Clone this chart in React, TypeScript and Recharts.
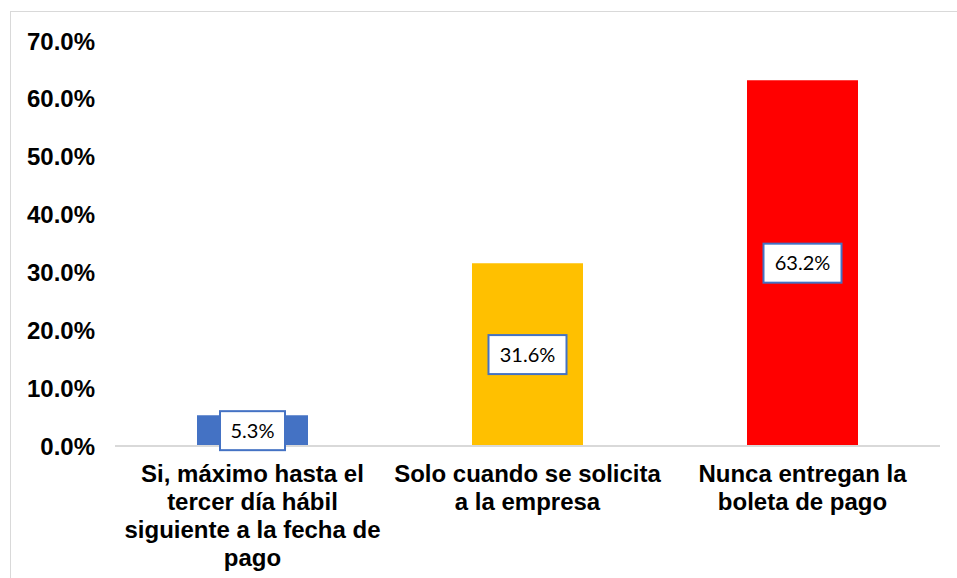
import { BarChart, Bar, XAxis, YAxis, Cell, LabelList } from 'recharts';

// Survey answers and their share of respondents (%)
const categories = [
  'Si, máximo hasta el tercer día hábil siguiente a la fecha de pago',
  'Solo cuando se solicita a la empresa',
  'Nunca entregan la boleta de pago',
];
const categoryLines = [
  ['Si, máximo hasta el', 'tercer día hábil', 'siguiente a la fecha de', 'pago'],
  ['Solo cuando se solicita', 'a la empresa'],
  ['Nunca entregan la', 'boleta de pago'],
];
const values = [5.3, 31.6, 63.2];
const barColors = ['#4472c4', '#ffc000', '#ff0000'];
const yTicks = [0, 10, 20, 30, 40, 50, 60, 70];

const chartData = categories.map((name, i) => ({ name, value: values[i], lines: categoryLines[i] }));

const axisFont = 'Arial, "Liberation Sans", sans-serif';

function CategoryTick(props: any) {
  const { x, y, index } = props;
  const lines = categoryLines[index] || [];
  return (
    <g>
      {lines.map((line, i) => (
        <text
          key={line}
          x={x}
          y={y + 36 + i * 28}
          textAnchor="middle"
          fill="#000"
          fontFamily={axisFont}
          fontWeight="bold"
          fontSize={24}
        >
          {line}
        </text>
      ))}
    </g>
  );
}

function ValueLabel(props: any) {
  const { x, y, width, height, value } = props;
  const text = `${Number(value).toFixed(1)}%`;
  const boxW = text.length * 13 + 13;
  const boxH = 39;
  const cx = x + width / 2;
  const cy = y + height / 2;
  return (
    <g>
      <rect
        x={cx - boxW / 2}
        y={cy - boxH / 2}
        width={boxW}
        height={boxH}
        fill="#fff"
        stroke="#4472c4"
        strokeWidth={2}
      />
      <text
        x={cx}
        y={cy}
        dy="0.36em"
        textAnchor="middle"
        fill="#000"
        fontFamily='Lato, "Noto Sans", sans-serif'
        fontSize={20}
      >
        {text}
      </text>
    </g>
  );
}

export default function App() {
  return (
    <div style={{ position: 'absolute', left: 0, top: 0, width: 957, height: 578, background: '#fff' }}>
      <div
        style={{
          position: 'absolute',
          left: 10,
          top: 11,
          right: 0,
          bottom: 0,
          borderTop: '1px solid #d9d9d9',
          borderLeft: '1px solid #d9d9d9',
        }}
      />
      <div style={{ position: 'absolute', left: 0, top: 0 }}>
        <BarChart
          width={957}
          height={578}
          data={chartData}
          margin={{ top: 41, right: 17, left: 0, bottom: 0 }}
        >
          <XAxis
            dataKey="name"
            height={132}
            tickLine={false}
            tickSize={0}
            tickMargin={0}
            axisLine={{ stroke: '#d9d9d9', strokeWidth: 2 }}
            tick={<CategoryTick />}
            interval={0}
          />
          <YAxis
            width={115}
            domain={[0, 70]}
            ticks={yTicks}
            axisLine={false}
            tickLine={false}
            tickSize={0}
            tickMargin={20}
            tickFormatter={(v: number) => `${v.toFixed(1)}%`}
            tick={{ fill: '#000', fontFamily: axisFont, fontWeight: 'bold', fontSize: 24 }}
          />
          <Bar dataKey="value" barSize={111} isAnimationActive={false}>
            {chartData.map((d, i) => (
              <Cell key={d.name} fill={barColors[i]} />
            ))}
            <LabelList dataKey="value" content={<ValueLabel />} />
          </Bar>
        </BarChart>
      </div>
    </div>
  );
}
